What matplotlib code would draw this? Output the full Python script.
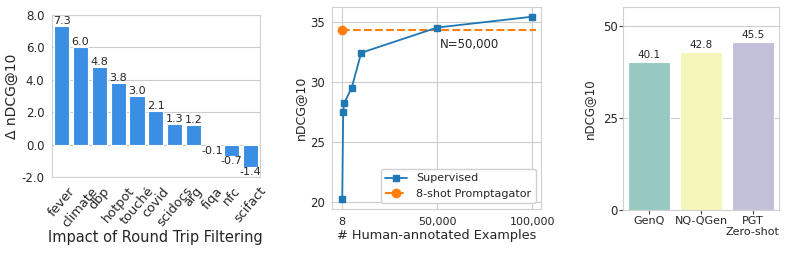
import matplotlib
matplotlib.use('Agg')
import matplotlib.pyplot as plt
import seaborn as sns
import numpy as np

sns.set_style('whitegrid')
plt.rcParams['font.family'] = ['DejaVu Sans']

# panel 1: round trip filtering
datasets = ['fever', 'climate', 'dbp', 'hotpot', 'touché', 'covid', 'scidocs', 'arg', 'fiqa', 'nfc', 'scifact']
delta = [7.3, 6.0, 4.8, 3.8, 3.0, 2.1, 1.3, 1.2, -0.1, -0.7, -1.4]

# panel 2: supervised vs few-shot
n_examples = [8, 500, 1000, 5000, 10000, 50000, 100000]
supervised = [20.2, 27.5, 28.2, 29.5, 32.4, 34.5, 35.4]
prompt_x = [8, 102000]
prompt_y = [34.3, 34.3]

# panel 3: zero-shot comparison
methods = ['GenQ', 'NQ-QGen', 'PGT\nZero-shot']
scores = [40.1, 42.8, 45.5]
method_colors = ['#97c9c1', '#f6f6ba', '#c2bfd8']

fig = plt.figure(figsize=(7.89, 2.54), dpi=100)
ax1 = fig.add_axes([0.066, 0.303, 0.263, 0.638])
ax2 = fig.add_axes([0.421, 0.177, 0.265, 0.795])
ax3 = fig.add_axes([0.790, 0.173, 0.197, 0.799])

for ax in (ax1, ax2, ax3):
    for s in ax.spines.values():
        s.set_color('#d0d0d0')

# ---- panel 1
x = np.arange(len(datasets))
ax1.bar(x, delta, width=0.8, color='#3a8ee3', edgecolor='white', linewidth=0.8, zorder=2)
for xi, v in zip(x, delta):
    if v >= 0:
        ax1.text(xi, v, '%.1f' % v, ha='center', va='bottom', fontsize=8, color='#262626')
    else:
        ax1.text(xi, v, '%.1f' % v, ha='center', va='top', fontsize=8, color='#262626')
ax1.set_xlim(-0.5, len(datasets) - 0.5)
ax1.set_ylim(-2, 8)
ax1.set_yticks([-2, 0, 2, 4, 6, 8])
ax1.set_yticklabels(['%.1f' % t for t in [-2, 0, 2, 4, 6, 8]], fontsize=8.5)
ax1.set_xticks(x)
ax1.set_xticklabels(datasets, rotation=50, fontsize=9.3)
ax1.xaxis.grid(False)
ax1.tick_params(axis='both', pad=2)
ax1.set_ylabel('Δ nDCG@10', fontsize=10, labelpad=2)
ax1.set_xlabel('Impact of Round Trip Filtering', fontsize=10.5, labelpad=0)

# ---- panel 2
ax2.plot(n_examples, supervised, marker='s', color='#1f77b4', markersize=4.5, linewidth=1.3, label='Supervised', zorder=3)
ax2.plot(prompt_x, prompt_y, marker='o', markevery=[0], linestyle='--', color='#ff7f0e', markersize=6, linewidth=1.5, label='8-shot Promptagator', zorder=2)
ax2.text(51500, 33.1, 'N=50,000', fontsize=8.5, ha='left', va='center', color='#262626')
ax2.set_xticks([8, 50000, 100000])
ax2.set_xticklabels(['8', '50,000', '100,000'], fontsize=8)
ax2.set_xlim(-5300, 104800)
ax2.set_ylim(19.4, 36.2)
ax2.set_yticks([20, 25, 30, 35])
ax2.tick_params(axis='y', labelsize=8.5)
ax2.tick_params(axis='both', pad=2)
ax2.set_ylabel('nDCG@10', fontsize=9, labelpad=2)
ax2.set_xlabel('# Human-annotated Examples', fontsize=9.3, labelpad=2)
ax2.legend(loc='lower right', fontsize=8, framealpha=1, edgecolor='#d0d0d0')

# ---- panel 3
xm = np.arange(len(methods))
ax3.bar(xm, scores, width=0.8, color=method_colors, edgecolor='white', linewidth=0.8, zorder=2)
for xi, v in zip(xm, scores):
    ax3.text(xi, v + 0.5, '%.1f' % v, ha='center', va='bottom', fontsize=7.5, color='#262626')
ax3.set_xlim(-0.5, len(methods) - 0.5)
ax3.set_ylim(0, 55)
ax3.set_yticks([0, 25, 50])
ax3.set_xticks(xm)
ax3.set_xticklabels(methods, fontsize=8)
ax3.xaxis.grid(False)
ax3.tick_params(axis='y', labelsize=8.5, left=True, length=3, color='#444444', pad=1)
ax3.tick_params(axis='x', bottom=True, length=3, color='#444444', pad=1)
ax3.set_ylabel('nDCG@10', fontsize=8.5, labelpad=5)

fig.savefig('out.png', dpi=100)
